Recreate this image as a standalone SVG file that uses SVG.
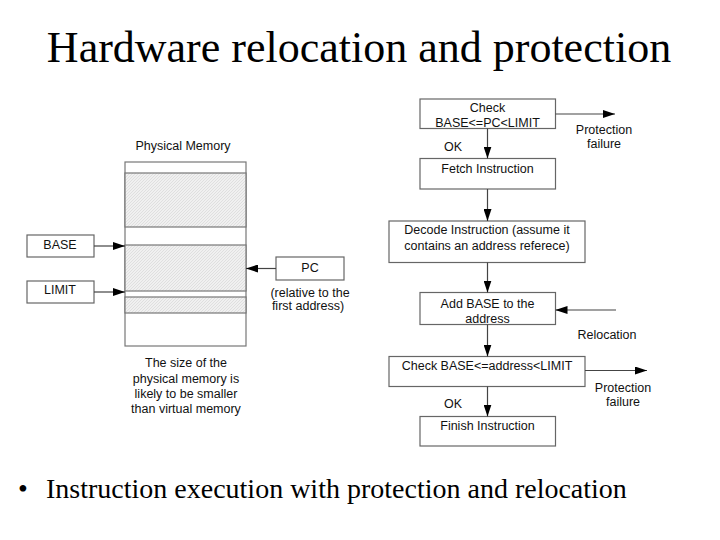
<svg xmlns="http://www.w3.org/2000/svg" width="720" height="540" viewBox="0 0 720 540">
<defs>
<style>
.box{fill:#fff;stroke:#666;stroke-width:1.2}
.mem{fill:#fff;stroke:#777;stroke-width:1.2}
.hatch{fill:url(#hp);stroke:#777;stroke-width:1.2}
.t{font-family:"Liberation Sans",Arial,sans-serif;font-size:12.5px;fill:#111;text-anchor:middle}
.ser{font-family:"Liberation Serif","Times New Roman",serif;fill:#000}
.c{stroke:#444;stroke-width:1.2;fill:none;marker-end:url(#ah)}
</style>
<pattern id="hp" width="3" height="3" patternUnits="userSpaceOnUse">
<rect width="3" height="3" fill="#f0f0f0"/>
<path d="M0,3 L3,0" stroke="#d8d8d8" stroke-width="0.7"/>
</pattern>
<marker id="ah" viewBox="0 0 12 8" refX="12" refY="4" markerWidth="12" markerHeight="8" markerUnits="userSpaceOnUse" orient="auto">
<path d="M0,0 L12,4 L0,8 Z" fill="#000"/>
</marker>
</defs>
<rect width="720" height="540" fill="#fff"/>
<text class="ser" x="359" y="62" font-size="44" text-anchor="middle">Hardware relocation and protection</text>
<text class="ser" x="18" y="498" font-size="28">•</text>
<text class="ser" x="46" y="498" font-size="28">Instruction execution with protection and relocation</text>

<g id="memory">
<text class="t" x="183" y="150">Physical Memory</text>
<rect class="mem" x="125" y="162" width="121" height="184"/>
<rect class="hatch" x="125" y="173" width="121" height="54"/>
<rect class="hatch" x="125" y="245" width="121" height="46"/>
<rect class="hatch" x="125" y="297" width="121" height="16"/>
<text class="t" x="186" y="367">The size of the</text>
<text class="t" x="186" y="383">physical memory is</text>
<text class="t" x="186" y="398">likely to be smaller</text>
<text class="t" x="186" y="413">than virtual memory</text>
</g>
<g id="base">
<rect class="box" x="27" y="235" width="67" height="22"/>
<text class="t" x="60" y="249">BASE</text>
</g>
<g id="limit">
<rect class="box" x="27" y="281" width="67" height="22"/>
<text class="t" x="60" y="294">LIMIT</text>
</g>
<g id="pc">
<rect class="box" x="276" y="257" width="68" height="23"/>
<text class="t" x="310" y="272">PC</text>
<text class="t" x="310" y="297">(relative to the</text>
<text class="t" x="308" y="310">first address)</text>
</g>

<g id="check1">
<rect class="box" x="420" y="99" width="135.5" height="29.5"/>
<text class="t" x="487.5" y="111.5">Check</text>
<text class="t" x="487.5" y="127">BASE&lt;=PC&lt;LIMIT</text>
</g>
<g id="fetch">
<rect class="box" x="420" y="158.5" width="135.5" height="30.5"/>
<text class="t" x="487.5" y="172.5">Fetch Instruction</text>
</g>
<g id="decode">
<rect class="box" x="389" y="221" width="196" height="41.5"/>
<text class="t" x="487" y="234">Decode Instruction (assume it</text>
<text class="t" x="487" y="250">contains an address referece)</text>
</g>
<g id="add">
<rect class="box" x="420" y="292.5" width="135.5" height="32"/>
<text class="t" x="487.5" y="307.5">Add BASE to the</text>
<text class="t" x="487.5" y="323">address</text>
</g>
<g id="check2">
<rect class="box" x="389" y="356.5" width="196" height="30"/>
<text class="t" x="487" y="369.5">Check BASE&lt;=address&lt;LIMIT</text>
</g>
<g id="finish">
<rect class="box" x="420" y="416.5" width="135.5" height="29.5"/>
<text class="t" x="487.5" y="429.5">Finish Instruction</text>
</g>

<g id="labels">
<text class="t" x="604" y="133.5">Protection</text>
<text class="t" x="604" y="147.5">failure</text>
<text class="t" x="453" y="150.5">OK</text>
<text class="t" x="607" y="338.5">Relocation</text>
<text class="t" x="623" y="391.5">Protection</text>
<text class="t" x="623" y="406">failure</text>
<text class="t" x="453" y="407.5">OK</text>
</g>

<g id="connectors">
<path class="c" d="M94,246 H125"/>
<path class="c" d="M94,292 H125"/>
<path class="c" d="M276,268.5 H246"/>
<path class="c" d="M555.5,114 H615"/>
<path class="c" d="M487.5,128.5 V158.5"/>
<path class="c" d="M487.5,189 V221"/>
<path class="c" d="M487.5,262.5 V292.5"/>
<path class="c" d="M616,310 H555.5"/>
<path class="c" d="M487.5,324.5 V356.5"/>
<path class="c" d="M585,370.5 H647"/>
<path class="c" d="M487.5,386.5 V416.5"/>
</g>
</svg>
